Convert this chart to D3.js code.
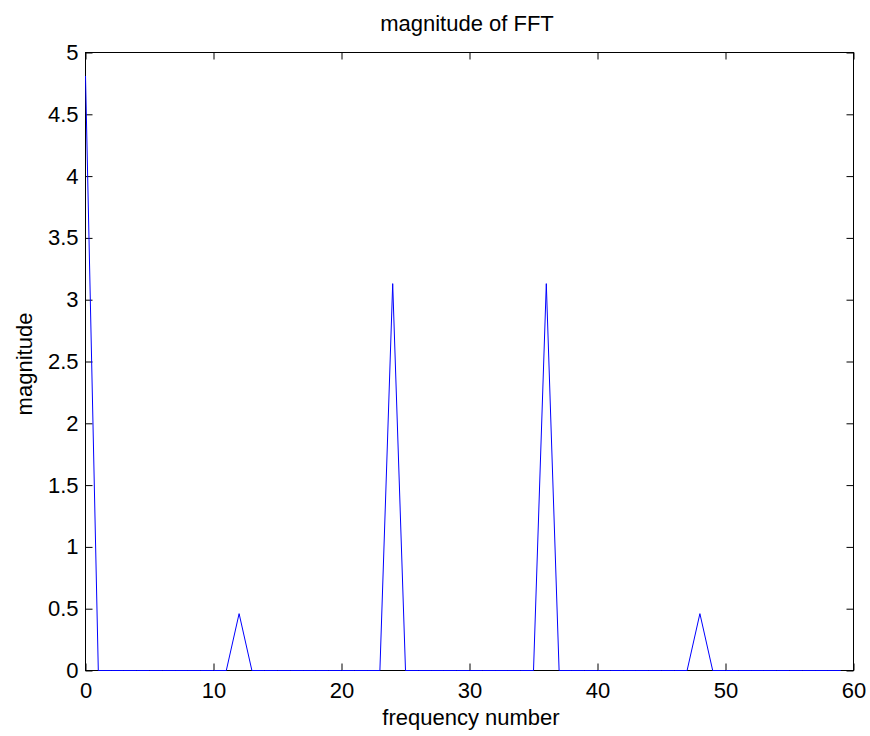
<!DOCTYPE html>
<html><head><meta charset="utf-8">
<script src="https://cdn.jsdelivr.net/npm/d3@7/dist/d3.min.js"></script>
<style>body{margin:0;background:#fff}svg{display:block}text{font-family:"Liberation Sans",Arial,sans-serif;fill:#000}</style>
</head><body><svg id="c" width="870" height="736"></svg>
<script>
// FFT magnitude, frequency numbers 0..59
const freq = d3.range(0, 60);
const peakBins = [0, 12, 24, 36, 48];
const peakValues = [4.81, 0.46, 3.13, 3.13, 0.46];
const magnitude = freq.map(f => { const i = peakBins.indexOf(f); return i >= 0 ? peakValues[i] : 0; });
const xTicks = [0, 10, 20, 30, 40, 50, 60];
const yTicks = [0, 0.5, 1, 1.5, 2, 2.5, 3, 3.5, 4, 4.5, 5];
const yTickLabels = ["0", "0.5", "1", "1.5", "2", "2.5", "3", "3.5", "4", "4.5", "5"];

const svg = d3.select("#c");
const L = 85.5, R = 853.5, T = 52.5, B = 670.5;
const x = d3.scaleLinear().domain([0, 60]).range([L, R]);
const y = d3.scaleLinear().domain([0, 5]).range([B, T]);
const fs = 22, tl = 7;

// ticks inward on all four sides
const g = svg.append("g");
g.append("g").attr("transform", `translate(0,${B})`)
  .call(d3.axisBottom(x).tickValues(xTicks).tickSizeInner(-tl).tickSizeOuter(0).tickPadding(12))
  .call(s => { s.select(".domain").remove(); s.selectAll("text").attr("font-size", fs).attr("font-family", "Liberation Sans, Arial"); });
g.append("g").attr("transform", `translate(0,${T})`)
  .call(d3.axisTop(x).tickValues(xTicks).tickSizeInner(-tl).tickSizeOuter(0).tickFormat(""))
  .call(s => s.select(".domain").remove());
g.append("g").attr("transform", `translate(${L},0)`)
  .call(d3.axisLeft(y).tickValues(yTicks).tickFormat((d, i) => yTickLabels[i]).tickSizeInner(-tl).tickSizeOuter(0).tickPadding(7))
  .call(s => { s.select(".domain").remove(); s.selectAll("text").attr("font-size", fs).attr("font-family", "Liberation Sans, Arial"); });
g.append("g").attr("transform", `translate(${R},0)`)
  .call(d3.axisRight(y).tickValues(yTicks).tickSizeInner(-tl).tickSizeOuter(0).tickFormat(""))
  .call(s => s.select(".domain").remove());

// box
svg.append("rect").attr("x", L).attr("y", T).attr("width", R - L).attr("height", B - T)
  .attr("fill", "none").attr("stroke", "#000").attr("stroke-width", 1);

// line
const line = d3.line().x((d, i) => x(freq[i])).y(d => y(d));
svg.append("path").datum(magnitude).attr("d", line)
  .attr("fill", "none").attr("stroke", "#0000ff").attr("stroke-width", 1);

// labels
svg.append("text").attr("x", 467).attr("y", 31).attr("text-anchor", "middle").attr("font-size", fs).text("magnitude of FFT");
svg.append("text").attr("x", 471).attr("y", 725).attr("text-anchor", "middle").attr("font-size", fs).text("frequency number");
svg.append("text").attr("transform", `translate(32,364) rotate(-90)`).attr("text-anchor", "middle").attr("font-size", fs).text("magnitude");
</script></body></html>
